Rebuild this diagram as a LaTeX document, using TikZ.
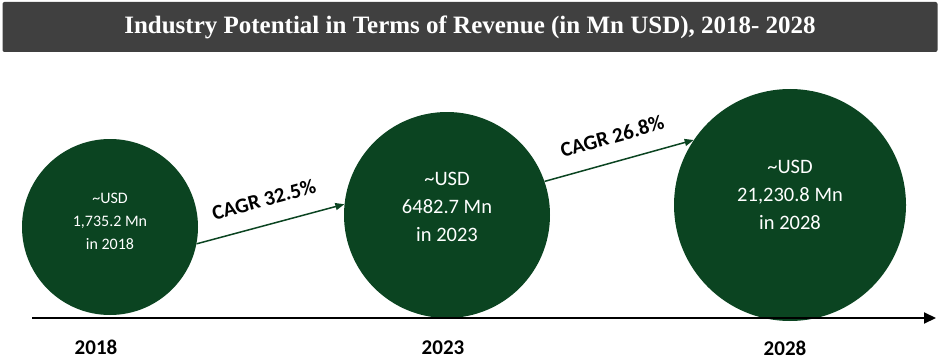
\documentclass[tikz,border=0pt]{standalone}
\usepackage{fontspec}
\setmainfont{Carlito}
\newfontfamily\titlefont{Liberation Serif}
\usetikzlibrary{positioning, arrows.meta}
\definecolor{revgreen}{HTML}{0B4421}
\definecolor{bargray}{HTML}{404040}

\begin{document}
\begin{tikzpicture}[x=1pt, y=-1pt,
        bubble/.style={circle, fill=revgreen, inner sep=0pt},
        amount/.style={text=white, align=center, inner sep=0pt},
        year/.style={font=\fontsize{21}{24}\selectfont\bfseries},
        growth/.style={-{Triangle[length=9pt, width=7pt]}, line width=1.5pt, revgreen},
        cagr/.style={font=\fontsize{21}{24}\selectfont\bfseries, text=black, sloped, above=14pt, midway}]
      \useasboundingbox (0,0) rectangle (940,361);
      % Title
      \node[rectangle, rounded corners=2pt, fill=bargray, minimum width=935pt, minimum height=50pt,
            text=white, font=\titlefont\fontsize{25}{28}\selectfont\bfseries] (title) at (470,27)
            {Industry Potential in Terms of Revenue (in Mn USD), 2018- 2028};
      
      % Bubbles
      \node[bubble, minimum size=176pt] (b18) at (110,227) {};
      \node[bubble, minimum size=206pt] (b23) at (447,215) {};
      \node[bubble, minimum size=232pt] (b28) at (790,205) {};
      \node[amount, font=\fontsize{16}{23}\selectfont] (t18) at ([yshift=6pt]b18.center)
            {\textasciitilde USD\\1,735.2 Mn\\in 2018};
      \node[amount, font=\fontsize{20.5}{28}\selectfont] (t23) at ([yshift=8pt]b23.center)
            {\textasciitilde USD\\6482.7 Mn\\in 2023};
      \node[amount, font=\fontsize{20.5}{28}\selectfont] (t28) at ([yshift=10pt]b28.center)
            {\textasciitilde USD\\21,230.8 Mn\\in 2028};
      
      \draw[growth] (b18.-11) -- (b23.174) node[cagr] (g1) {CAGR 32.5\%};
      \draw[growth] (b23.19) -- (b28.146) node[cagr] (g2) {CAGR 26.8\%};
      
      % Time axis
      \coordinate (axisstart) at (32,318);
      \coordinate (axisend) at (936,318);
      \draw[line width=2pt, -{Triangle[length=12pt, width=11pt]}] (axisstart) -- (axisend);
      
      \node[year] (y18) at (96,347) {2018};
      \node[year] (y23) at (443,348) {2023};
      \node[year] (y28) at (785,348) {2028};
    \end{tikzpicture}
\end{document}
